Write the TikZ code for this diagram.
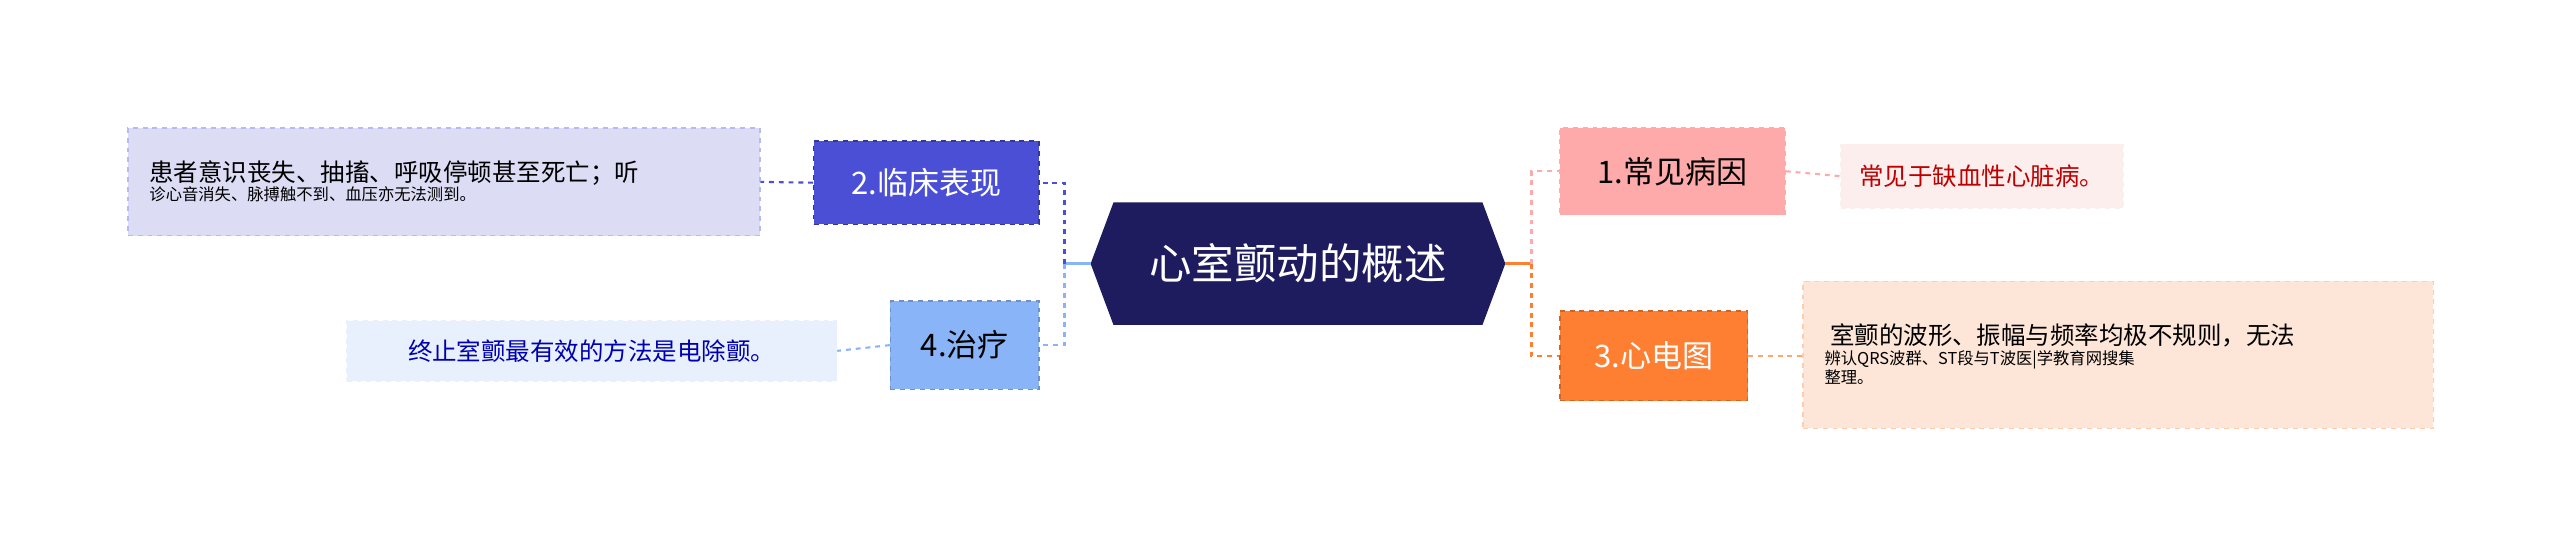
\documentclass[tikz,border=0pt]{standalone}
\usepackage{fontspec}
\setmainfont{Noto Sans CJK SC}
\usetikzlibrary{shapes.geometric}
\definecolor{navy}{HTML}{1E1B5E}
\definecolor{bl}{HTML}{4A4FD6}
\definecolor{bll}{HTML}{DCDCF5}
\definecolor{lb}{HTML}{8AB4F8}
\definecolor{lbl}{HTML}{E8F0FE}
\definecolor{pk}{HTML}{FFAAAA}
\definecolor{pkl}{HTML}{FDEEEE}
\definecolor{og}{HTML}{FF7F32}
\definecolor{ogl}{HTML}{FDE5D8}
\begin{document}
\begin{tikzpicture}[x=1pt,y=-1pt,
 box/.style={draw,dashed,line width=0.8pt,inner sep=0pt,anchor=north west},
 con/.style={dashed,line width=1.3pt}]
\useasboundingbox (0,0) rectangle (1568,342);
\fill[navy] (682,124)--(908,124)--(922,161.5)--(908,199)--(682,199)--(668,161.5)--cycle;
\node (c) at (795,161.5) {\fontsize{26}{30}\selectfont\color{white}心室颤动的概述};
\coordinate (cl) at (668,161.5); \coordinate (cr) at (922,161.5);
% left
\node[box,fill=bl,draw=bl!70!black,minimum width=138pt,minimum height=51pt] (n2) at (498,86) {};
\node at (n2.center) {\fontsize{19}{22}\selectfont\color{white}2.临床表现};
\node[box,fill=bll,draw=bl!40,minimum width=387pt,minimum height=66pt] (t2) at (78,78) {};
\node[anchor=west,align=left] at (88,111) {\fontsize{15}{22}\selectfont 患者意识丧失、抽搐、呼吸停顿甚至死亡；听\\诊心音消失、脉搏触不到、血压亦无法测到。};
\node[box,fill=lb,draw=lb!80!black,minimum width=91pt,minimum height=54pt] (n4) at (545,184) {};
\node at (n4.center) {\fontsize{19}{22}\selectfont 4.治疗};
\node[box,fill=lbl,draw=lbl,minimum width=300pt,minimum height=37pt] (t4) at (212,196) {};
\node at (t4.center) {\fontsize{15}{20}\selectfont\color{blue!70!black}终止室颤最有效的方法是电除颤。};
% right
\node[box,fill=pk,draw=pk,minimum width=138pt,minimum height=53pt] (n1) at (955,78) {};
\node at (n1.center) {\fontsize{19}{22}\selectfont 1.常见病因};
\node[box,fill=pkl,draw=pkl,minimum width=173pt,minimum height=39pt] (t1) at (1127,88) {};
\node at (t1.center) {\fontsize{15}{20}\selectfont\color{red!75!black}常见于缺血性心脏病。};
\node[box,fill=og,draw=og!80!black,minimum width=115pt,minimum height=55pt] (n3) at (955,190) {};
\node at (n3.center) {\fontsize{19}{22}\selectfont\color{white}3.心电图};
\node[box,fill=ogl,draw=og!40,minimum width=386pt,minimum height=90pt] (t3) at (1104,172) {};
\node[anchor=west,align=left] at (1114,217) {\fontsize{15}{22}\selectfont \ 室颤的波形、振幅与频率均极不规则，无法\\辨认QRS波群、ST段与T波医|学教育网搜集\\整理。};
% connectors
\draw[og,line width=2pt] (cr)--(938,161.5);
\draw[con,pk] (938,161.5)|-(n1.west);
\draw[con,og] (938,161.5)|-(n3.west);
\draw[lb,line width=2pt] (cl)--(652,161.5);
\draw[con,bl] (652,161.5)|-(n2.east);
\draw[con,lb] (652,161.5)|-(n4.east);
\draw[con,bl] (n2.west)--(t2.east);
\draw[con,lb] (n4.west)--(t4.east);
\draw[con,pk] (n1.east)--(t1.west);
\draw[con,og!70] (n3.east)--(t3.west|-n3.east);
\end{tikzpicture}
\end{document}
